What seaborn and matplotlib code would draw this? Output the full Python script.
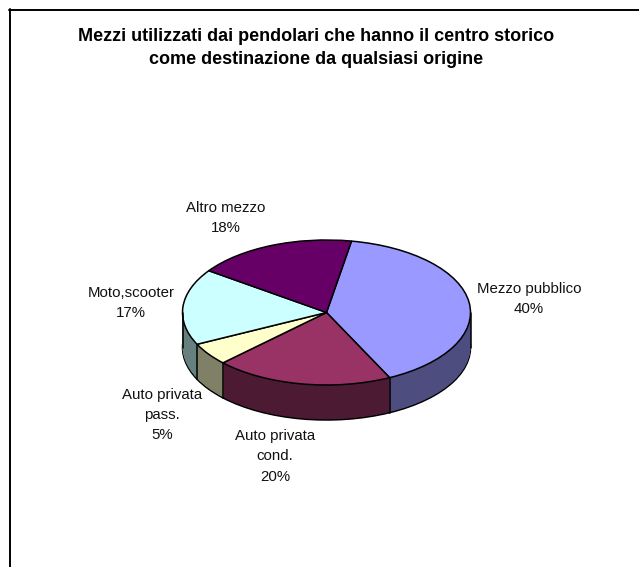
import matplotlib
matplotlib.use("Agg")
import matplotlib.pyplot as plt
import numpy as np
import seaborn as sns

categories = ["Mezzo pubblico", "Auto privata\ncond.", "Auto privata\npass.", "Moto,scooter", "Altro mezzo"]
values = [40, 20, 5, 17, 18]
colors = ["#9999FF", "#993366", "#FFFFCC", "#CCFFFF", "#660066"]
title = "Mezzi utilizzati dai pendolari che hanno il centro storico\ncome destinazione da qualsiasi origine"

W, H = 639, 567
CX, CY = 326.5, 312.5   # pie centre in pixels
RX, RY = 144, 72.5      # ellipse radii in pixels
DEPTH = 35 / RY
START = 80.0

label_pos = [(529, 299), (275, 456.5), (162, 415), (131, 303), (226, 218)]

sns.set_theme(style="white")
plt.rcParams["font.family"] = ["Liberation Sans", "DejaVu Sans"]

fig = plt.figure(figsize=(W / 100, H / 100), dpi=100)
ax = fig.add_axes([0, 0, 1, 1])

side_colors = [tuple(c * 0.5 for c in rgb) for rgb in sns.color_palette(colors)]

# stack of dark pies gives the thickness
for i, d in enumerate(np.linspace(DEPTH, 0, 40)):
    edge = "black" if i == 0 else "none"
    ax.pie(values, colors=side_colors, startangle=START, counterclock=False, center=(0, -d),
           radius=1, frame=True, wedgeprops={"linewidth": 1.1 if i == 0 else 0, "edgecolor": edge})

ax.pie(values, colors=colors, startangle=START, counterclock=False, center=(0, 0),
       radius=1, frame=True, wedgeprops={"linewidth": 1.1, "edgecolor": "black"})

# vertical edges on the visible side
angles = np.radians(START - np.cumsum(values) / np.sum(values) * 360)
for a in angles:
    if np.sin(a) < 0:
        ax.plot([np.cos(a)] * 2, [np.sin(a), np.sin(a) - DEPTH], color="black", lw=1.1, zorder=3)
for x in (-1, 1):
    ax.plot([x, x], [0, -DEPTH], color="black", lw=1.1, zorder=3)

ax.set_aspect("auto")
ax.set_xlim(-CX / RX, (W - CX) / RX)
ax.set_ylim((CY - H) / RY, CY / RY)
ax.set_xticks([])
ax.set_yticks([])
for side in ax.spines:
    ax.spines[side].set_visible(False)

# only the top and left of the chart border are in the crop
fig.add_artist(plt.Line2D([9 / W, 1], [1 - 9.5 / H] * 2, color="black", lw=1.4))
fig.add_artist(plt.Line2D([9.5 / W] * 2, [0, 1 - 9 / H], color="black", lw=1.4))

fig.text(316 / W, 1 - 48 / H, title, ha="center", va="center", fontsize=13, fontweight="bold",
         color="black", linespacing=1.4)

for name, v, (x, y) in zip(categories, values, label_pos):
    fig.text(x / W, 1 - y / H, f"{name}\n{v}%", ha="center", va="center", fontsize=10.85,
             color="#111111", linespacing=1.55)

fig.savefig("out.png", dpi=100, facecolor="white")
